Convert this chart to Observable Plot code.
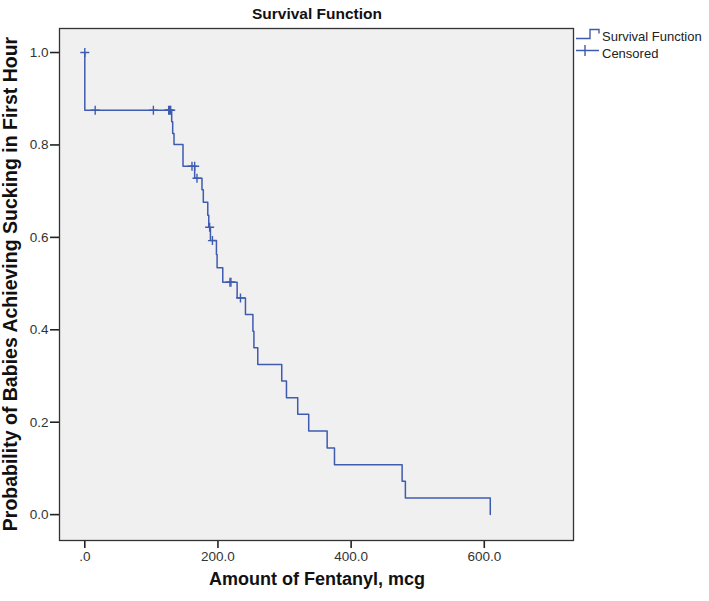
<!DOCTYPE html>
<html>
<head>
<meta charset="utf-8">
<script src="https://cdn.jsdelivr.net/npm/d3@7"></script>
<script src="https://cdn.jsdelivr.net/npm/@observablehq/plot@0.6"></script>
<style>
  html, body { margin: 0; padding: 0; background: #ffffff; }
  #chart svg { display: block; }
  #chart g[aria-label$="tick label"] text, #chart g[aria-label$="tick label"] { font-size: 13.5px !important; }
</style>
</head>
<body>
<div id="chart"></div>
<script>
// Kaplan–Meier step data
const eventTimes = [0, 130.5, 132, 134, 147.5, 165, 176, 178, 184.7, 186.2, 188.7, 197.7, 198.7, 207.2, 228.8, 241.3, 252.5, 254, 259.8, 295.8, 302.9, 319.8, 336.3, 364, 375, 476.6, 481.5, 609];
const survival   = [0.875, 0.850, 0.825, 0.801, 0.754, 0.728, 0.703, 0.676, 0.648, 0.622, 0.593, 0.563, 0.534, 0.503, 0.469, 0.433, 0.397, 0.361, 0.325, 0.289, 0.253, 0.217, 0.181, 0.144, 0.108, 0.072, 0.036, 0];

// Censored observations
const censorTimes = [0, 15.6, 103, 126, 127.5, 129, 161, 165, 168.5, 187.5, 191.7, 218, 219.5, 233.8];
const censorSurv  = [1.0, 0.875, 0.875, 0.875, 0.875, 0.875, 0.754, 0.754, 0.728, 0.622, 0.593, 0.503, 0.503, 0.469];

const xTicks = [0, 200, 400, 600];
const yTicks = [0, 0.2, 0.4, 0.6, 0.8, 1.0];

const titleText = "Survival Function";
const xLabel = "Amount of Fentanyl, mcg";
const yLabel = "Probability of Babies Achieving Sucking in First Hour";
const legendLabels = ["Survival Function", "Censored"];

const lineColor = "#3f5bb0";

const curve = [{t: 0, s: 1}].concat(eventTimes.map((t, i) => ({t, s: survival[i]})));
const censored = censorTimes.map((t, i) => ({t, s: censorSurv[i]}));

const plusSymbol = {
  draw(ctx) {
    const a = 4.5;
    ctx.moveTo(-a, 0); ctx.lineTo(a, 0);
    ctx.moveTo(0, -a); ctx.lineTo(0, a);
  }
};

const W = 709, H = 601;
const chart = Plot.plot({
  width: W,
  height: H,
  marginLeft: 59,
  marginRight: 136,
  marginTop: 28,
  marginBottom: 61,
  style: {fontFamily: "'Liberation Sans', Arial, sans-serif", color: "#333", background: "#ffffff"},
  x: {domain: [-38, 734], label: null},
  y: {domain: [-0.056, 1.052], label: null},
  marks: [
    Plot.frame({fill: "#f0f0f0", stroke: null}),
    Plot.axisX({ticks: xTicks, tickFormat: d => d === 0 ? ".0" : d.toFixed(1), tickSize: 8, tickPadding: 3, stroke: "#222", strokeWidth: 1.6, fill: "#333", fontSize: 13.5, label: null}),
    Plot.axisY({ticks: yTicks, tickFormat: d => d.toFixed(1), tickSize: 9, tickPadding: 2, stroke: "#222", strokeWidth: 1.6, fill: "#333", fontSize: 13.5, label: null}),
    Plot.line(curve, {x: "t", y: "s", curve: "step-after", stroke: lineColor, strokeWidth: 1.5}),
    Plot.dot(censored, {x: "t", y: "s", symbol: plusSymbol, fill: "none", stroke: lineColor, strokeWidth: 1.4, r: 4}),
    Plot.frame({stroke: "#333", strokeWidth: 1.3})
  ]
});

const svg = d3.select(chart);
svg.selectAll('g[aria-label$="tick label"]').attr("font-size", 13.5).style("font-size", "13.5px");
const font = "'Liberation Sans', Arial, sans-serif";
// Title
svg.append("text").attr("x", 317).attr("y", 19).attr("text-anchor", "middle")
  .attr("font-family", font).attr("font-weight", "bold").attr("font-size", 15.5).attr("fill", "#111").text(titleText);
// X label
svg.append("text").attr("x", 317).attr("y", 585).attr("text-anchor", "middle")
  .attr("font-family", font).attr("font-weight", "bold").attr("font-size", 18).attr("fill", "#111").text(xLabel);
// Y label
svg.append("text").attr("transform", "translate(17,284) rotate(-90)").attr("text-anchor", "middle")
  .attr("font-family", font).attr("font-weight", "bold").attr("font-size", 19.5).attr("fill", "#111").text(yLabel);

// Legend
const lg = svg.append("g").attr("text-anchor", "start");
lg.append("path").attr("d", "M576,38.5 H590 V29.5 H599 V33.5").attr("fill", "none").attr("stroke", lineColor).attr("stroke-width", 1.4);
lg.append("text").attr("x", 602).attr("y", 41).attr("text-anchor", "start").attr("font-family", font).attr("font-size", 13).attr("fill", "#222").text(legendLabels[0]);
lg.append("path").attr("d", "M576,50.5 H599 M585,45 V56").attr("fill", "none").attr("stroke", lineColor).attr("stroke-width", 1.4);
lg.append("text").attr("x", 602).attr("y", 58).attr("text-anchor", "start").attr("font-family", font).attr("font-size", 13).attr("fill", "#222").text(legendLabels[1]);

document.getElementById("chart").appendChild(chart);
</script>
</body>
</html>
